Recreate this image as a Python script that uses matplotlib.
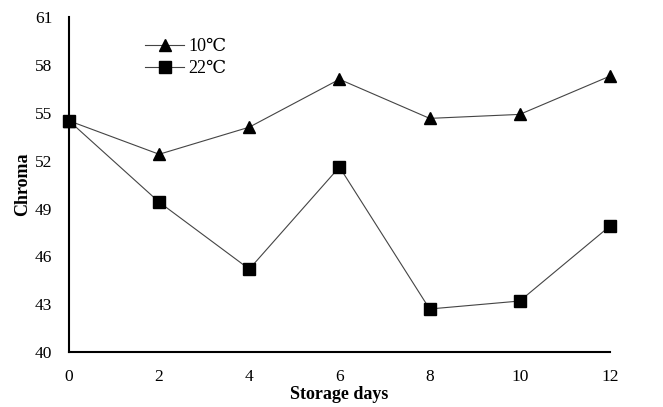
import matplotlib.pyplot as plt

# ---- Data
days = [0, 2, 4, 6, 8, 10, 12]
chroma_10 = [54.5, 52.4, 54.1, 57.1, 54.65, 54.9, 57.3]
chroma_22 = [54.5, 49.4, 45.2, 51.6, 42.7, 43.2, 47.9]
yticks = [40, 43, 46, 49, 52, 55, 58, 61]

plt.rcParams['font.family'] = ['Liberation Serif', 'DejaVu Serif']

fig = plt.figure(figsize=(6.63, 4.07), dpi=100)
ax = fig.add_axes([0.104, 0.135, 0.816, 0.823])

ax.plot(days, chroma_10, color='#444444', lw=0.8, marker='^', ms=8,
        mfc='black', mec='black', label='10\u2103', clip_on=False, zorder=3)
ax.plot(days, chroma_22, color='#444444', lw=0.8, marker='s', ms=8,
        mfc='black', mec='black', label='22\u2103', clip_on=False, zorder=3)

ax.set_xlim(0, 12)
ax.set_ylim(40, 61)
ax.set_xticks(days)
ax.set_yticks(yticks)
ax.tick_params(length=0, labelsize=12.5)
ax.tick_params(axis='x', pad=12)
ax.tick_params(axis='y', pad=12)
for s in ['top', 'right']:
    ax.spines[s].set_visible(False)
for s in ['left', 'bottom']:
    ax.spines[s].set_linewidth(1.5)

ax.set_xlabel('Storage days', fontsize=13, fontweight='bold', labelpad=1)
ax.set_ylabel('Chroma', fontsize=13, fontweight='bold', labelpad=3)

ax.legend(loc='upper left', bbox_to_anchor=(0.11, 0.985), frameon=False,
          fontsize=13, handlelength=2.2, labelspacing=0.25, handletextpad=0.2)

fig.savefig('out.png', dpi=100)
